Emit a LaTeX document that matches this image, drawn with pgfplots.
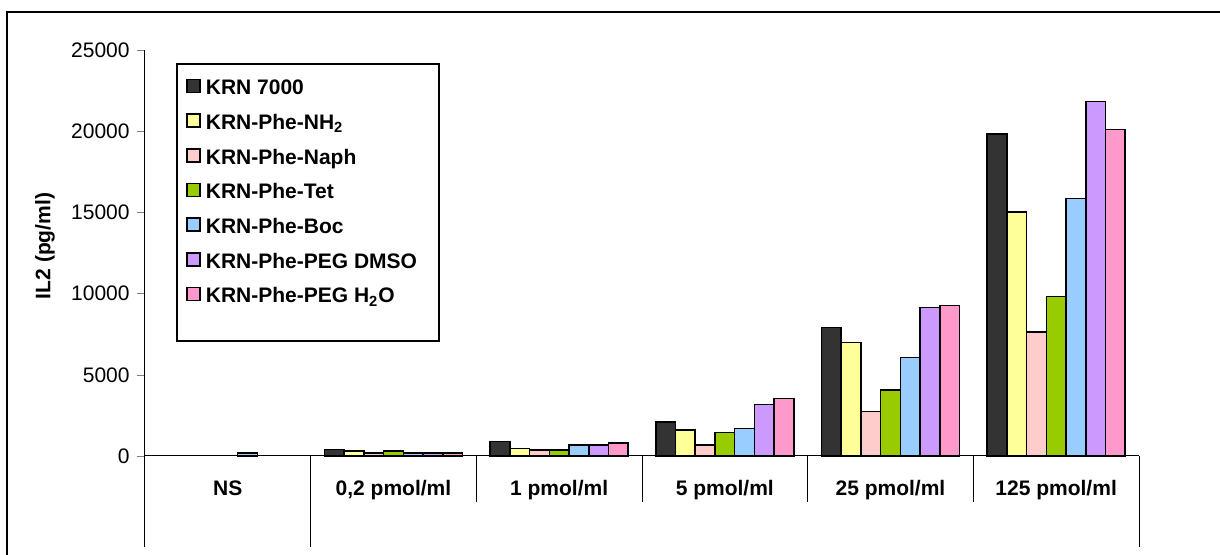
\documentclass[border=0pt]{standalone}
\usepackage{fontspec}
\setmainfont{Liberation Sans}
\usepackage{pgfplots}
\pgfplotsset{compat=1.18}
\definecolor{cA}{HTML}{333333}
\definecolor{cB}{HTML}{FFFF99}
\definecolor{cC}{HTML}{FFCCCC}
\definecolor{cD}{HTML}{99CC00}
\definecolor{cE}{HTML}{99CCFF}
\definecolor{cF}{HTML}{CC99FF}
\definecolor{cG}{HTML}{FF99CC}
\begin{document}
\fontsize{10.5}{12.6}\selectfont
\begin{tikzpicture}[x=0.5pt,y=0.5pt]
\useasboundingbox (0,0) rectangle (1220,555);
\draw[line width=1pt] (7,543) rectangle (1260,-65);
\draw[line width=0.75pt] (177,491) rectangle (439,214);
\begin{axis}[
  at={(72.5pt,49.5pt)}, anchor=south west,
  scale only axis, width=497pt, height=203pt,
  xmin=-0.5, xmax=5.5, ymin=0, ymax=25000,
  axis lines=left, axis line style={-, line width=0.5pt},
  ybar=0pt, bar width=0.119,
  xtick={0,...,5},
  xticklabels={NS,{0,2 pmol/ml},1 pmol/ml,5 pmol/ml,25 pmol/ml,125 pmol/ml},
  ytick={0,5000,...,25000},
  scaled y ticks=false,
  tick align=outside, major tick length=4pt,
  x tick style={draw=none},
  xticklabel style={font=\bfseries, anchor=base, yshift=-16pt},
  yticklabel style={/pgf/number format/fixed, /pgf/number format/1000 sep={}, /pgf/number format/assume math mode=true},
  clip=false,
  legend style={draw=none, fill=none, at={(axis description cs:0.0412,0.93)}, anchor=north west,
    inner sep=0pt, row sep=7.25pt, column sep=2.5pt,
    nodes={inner sep=0pt, text height=8pt, text depth=2pt, font=\bfseries}},
  legend cell align=left,
  legend image code/.code={\draw[#1, line width=0.75pt] (0pt,-1.8pt) rectangle (6.5pt,4.7pt);},
  every axis plot/.append style={draw=black, line width=0.8pt},
]
\addplot[fill=cA] coordinates {(1,400) (2,900) (3,2110) (4,7920) (5,19830)};
\addlegendentry{KRN 7000}
\addplot[fill=cB] coordinates {(1,300) (2,470) (3,1600) (4,7000) (5,15020)};
\addlegendentry{KRN-Phe-NH\textsubscript{2}}
\addplot[fill=cC] coordinates {(1,200) (2,370) (3,680) (4,2730) (5,7620)};
\addlegendentry{KRN-Phe-Naph}
\addplot[fill=cD] coordinates {(1,300) (2,370) (3,1440) (4,4080) (5,9810)};
\addlegendentry{KRN-Phe-Tet}
\addplot[fill=cE] coordinates {(0,200) (1,200) (2,680) (3,1700) (4,6070) (5,15860)};
\addlegendentry{KRN-Phe-Boc}
\addplot[fill=cF] coordinates {(1,200) (2,680) (3,3160) (4,9140) (5,21820)};
\addlegendentry{KRN-Phe-PEG DMSO}
\addplot[fill=cG] coordinates {(1,200) (2,800) (3,3530) (4,9260) (5,20100)};
\addlegendentry{KRN-Phe-PEG H\textsubscript{2}O}
\draw[line width=0.5pt] (axis cs:-0.5,0) -- ++(0pt,-45.5pt);
\draw[line width=0.5pt] (axis cs:0.5,0) -- ++(0pt,-45.5pt);
\draw[line width=0.5pt] (axis cs:5.5,0) -- ++(0pt,-45.5pt);
\draw[line width=0.5pt] (axis cs:1.5,0) -- ++(0pt,-23pt);
\draw[line width=0.5pt] (axis cs:2.5,0) -- ++(0pt,-23pt);
\draw[line width=0.5pt] (axis cs:3.5,0) -- ++(0pt,-23pt);
\draw[line width=0.5pt] (axis cs:4.5,0) -- ++(0pt,-23pt);
\end{axis}
\node[rotate=90, font=\bfseries] at (45,309) {IL2 (pg/ml)};
\end{tikzpicture}
\end{document}
